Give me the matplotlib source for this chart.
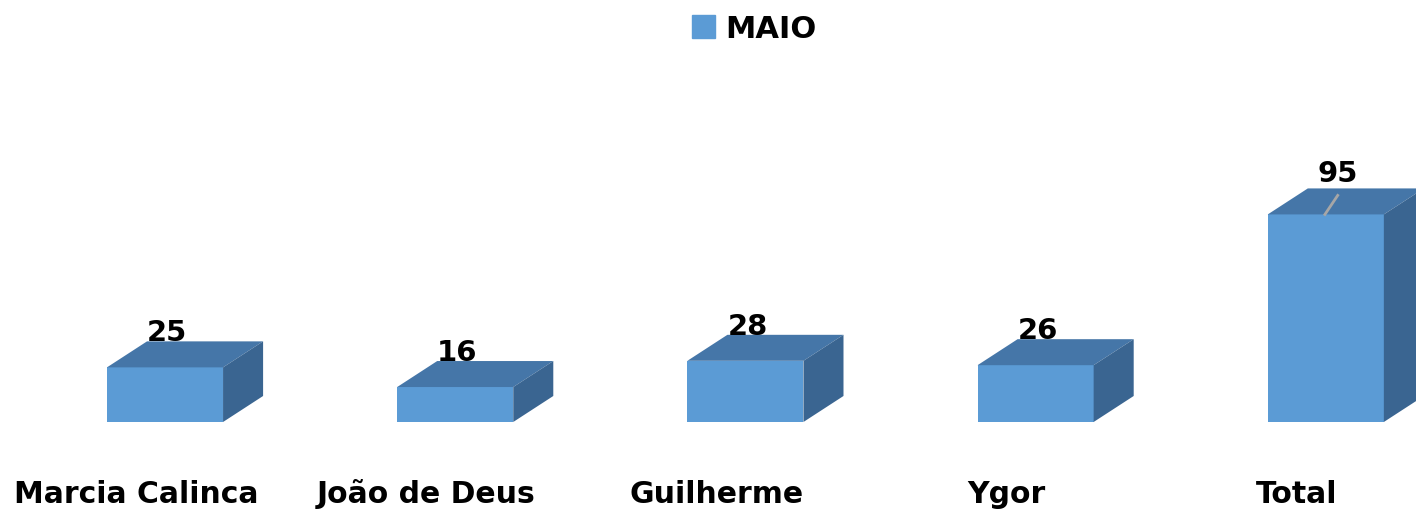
import matplotlib
matplotlib.use("Agg")
import matplotlib.pyplot as plt
from matplotlib.patches import Polygon, Patch

categories = ["Marcia Calinca", "João de Deus", "Guilherme", "Ygor", "Total"]
values = [25, 16, 28, 26, 95]
series_name = "MAIO"

FRONT = "#5B9BD5"
TOP = "#4576A8"
SIDE = "#3A6591"

fig = plt.figure(figsize=(14.16, 5.10), dpi=100)
ax = fig.add_axes([0, 0, 1, 1])
ax.set_xlim(-0.5686, 4.3108)
ax.set_ylim(-39.82, 193.59)
ax.axis("off")

w = 0.40
dx = 0.138
dy = 11.9

xs = list(range(len(categories)))
ax.bar(xs, values, width=w, color=FRONT, zorder=2)
for x, v in zip(xs, values):
    x0, x1 = x - w / 2, x + w / 2
    ax.add_patch(Polygon([(x0, v), (x1, v), (x1 + dx, v + dy), (x0 + dx, v + dy)],
                         closed=True, facecolor=TOP, edgecolor="none", zorder=2))
    ax.add_patch(Polygon([(x1, 0), (x1 + dx, dy), (x1 + dx, v + dy), (x1, v)],
                         closed=True, facecolor=SIDE, edgecolor="none", zorder=2))

for x, v, c in zip(xs, values, categories):
    if v == max(values):
        ax.plot([x - 0.003, x + 0.041], [v, v + 8.7], color="#A6A6A6", lw=2, zorder=3)
        ax.text(x + 0.041, v + dy + 3.6, str(v), ha="center", va="baseline",
                fontsize=21, fontweight="bold", color="black", zorder=4)
    else:
        ax.text(x + 0.007, v + dy + 0.5, str(v), ha="center", va="baseline",
                fontsize=21, fontweight="bold", color="black", zorder=4)
    ax.text(x - 0.1, -36.6, c, ha="center", va="baseline",
            fontsize=21.5, fontweight="bold", color="black")

fig.legend(handles=[Patch(color=FRONT, label=series_name)], loc="upper center",
           bbox_to_anchor=(0.5325, 0.994), frameon=False,
           prop={"weight": "bold", "size": 22}, handlelength=0.75, handleheight=0.75,
           handletextpad=0.35, borderaxespad=0.0)

fig.savefig("out.png", dpi=100)
